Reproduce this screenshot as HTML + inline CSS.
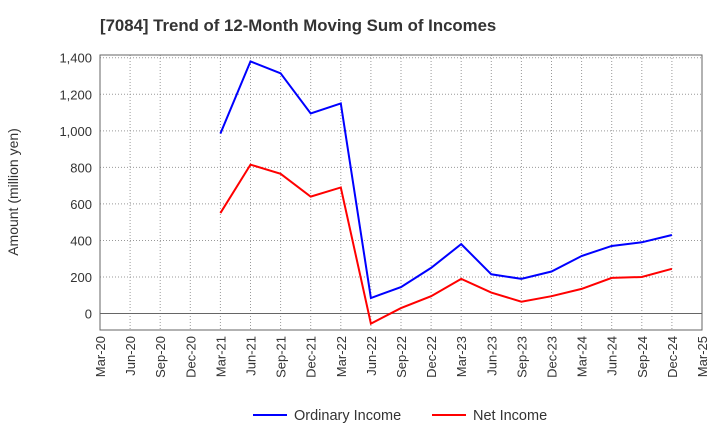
<!DOCTYPE html>
<html><head><meta charset="utf-8"><style>
body{margin:0;background:#fff;font-family:"Liberation Sans",sans-serif}
</style></head><body>
<svg id="c" width="720" height="440" xmlns="http://www.w3.org/2000/svg">
<text x="100" y="31" font-size="16.8" font-weight="bold" fill="#333">[7084]  Trend of 12-Month Moving Sum of Incomes</text>
<text transform="translate(18,192) rotate(-90)" text-anchor="middle" font-size="14" fill="#333">Amount (million yen)</text>
<g id="grid"></g><g id="axes"></g><g id="series"></g>
<g>
<line x1="253" y1="415" x2="287" y2="415" stroke="#0000ff" stroke-width="2"/>
<text x="294" y="420" font-size="14.5" fill="#333">Ordinary Income</text>
<line x1="432" y1="415" x2="466" y2="415" stroke="#ff0000" stroke-width="2"/>
<text x="473" y="420" font-size="14.5" fill="#333">Net Income</text>
</g>
</svg>
<script>
const categories=["Mar-20","Jun-20","Sep-20","Dec-20","Mar-21","Jun-21","Sep-21","Dec-21","Mar-22","Jun-22","Sep-22","Dec-22","Mar-23","Jun-23","Sep-23","Dec-23","Mar-24","Jun-24","Sep-24","Dec-24","Mar-25"];
const yTicks=[0,200,400,600,800,1000,1200,1400];
const ordinaryIncome=[null,null,null,null,985,1380,1315,1095,1150,85,145,250,380,215,190,230,315,370,390,430,null];
const netIncome=[null,null,null,null,550,815,765,640,690,-55,30,95,190,115,65,95,135,195,200,245,null];
const NS="http://www.w3.org/2000/svg";
const L=100,R=702,T=55,B=330,yMin=-90,yMax=1415;
const x=i=>L+(R-L)*i/(categories.length-1);
const y=v=>B-(v-yMin)/(yMax-yMin)*(B-T);
function mk(tag,at,parent){const e=document.createElementNS(NS,tag);for(const k in at)e.setAttribute(k,at[k]);document.getElementById(parent).appendChild(e);return e;}
categories.forEach((c,i)=>{
 const g=mk("line",{x1:x(i),x2:x(i),y1:T,y2:B,stroke:"#999","stroke-dasharray":"1,2","stroke-width":1},"grid");
 
 
 const t=mk("text",{transform:`translate(${x(i)+5},${B+6}) rotate(-90)`,"text-anchor":"end","font-size":13,fill:"#333"},"axes");
 t.textContent=c;
 
 
});
yTicks.forEach(v=>{
 const g=mk("line",{x1:L,x2:R,y1:y(v),y2:y(v),stroke:v===0?"#666":"#999","stroke-dasharray":v===0?"":"1,2","stroke-width":1},"grid");
 
 
 const t=mk("text",{x:L-8,y:y(v)+5,"text-anchor":"end","font-size":13,fill:"#333"},"axes");
 t.textContent=v.toLocaleString("en-US");
 
 
});
const f=mk("rect",{x:L,y:T,width:R-L,height:B-T,fill:"none",stroke:"#666"},"axes");


function line(data,color,name){
 const pts=data.map((v,i)=>v==null?null:x(i)+","+y(v)).filter(p=>p);
 const p=mk("polyline",{points:pts.join(" "),fill:"none",stroke:color,"stroke-width":2},"series");
 
 
}
line(ordinaryIncome,"#0000ff","ordinary-income-line");
line(netIncome,"#ff0000","net-income-line");
</script>
</body></html>
